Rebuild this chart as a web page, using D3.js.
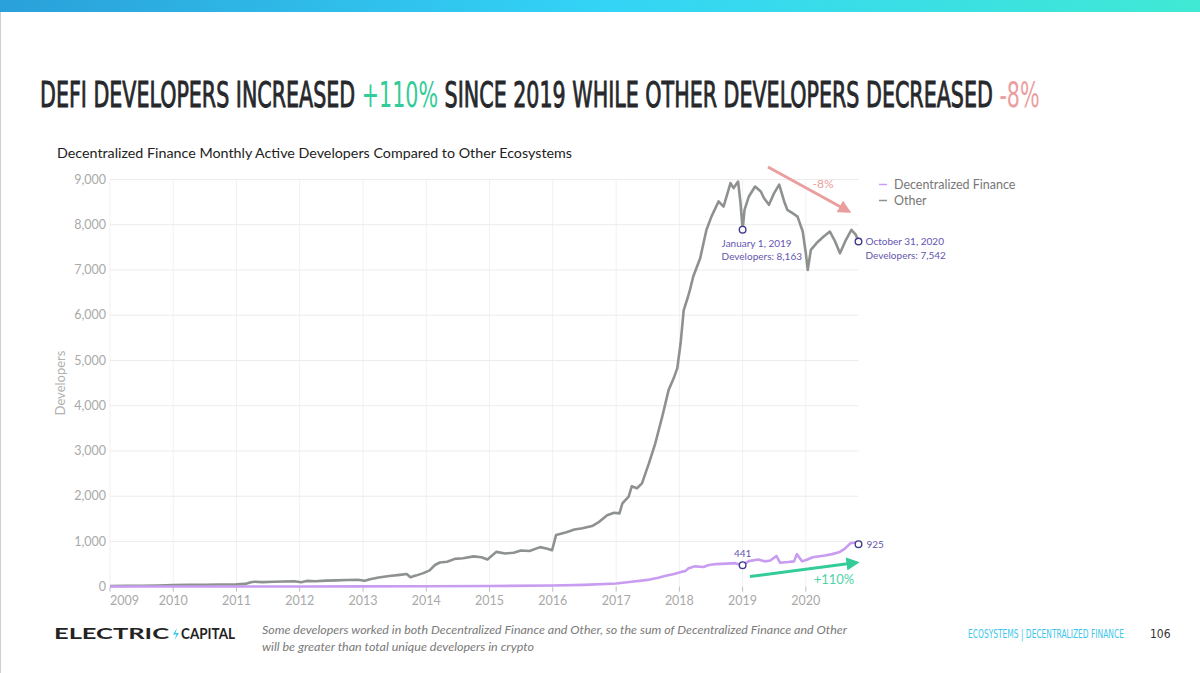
<!DOCTYPE html>
<html><head><meta charset="utf-8">
<script src="https://cdn.jsdelivr.net/npm/d3@7"></script>
<style>
html,body{margin:0;padding:0;background:#fff;}
svg{display:block;}
</style></head>
<body>
<svg id="c" width="1200" height="673"></svg>
<script>
// ---------------- DATA ----------------
const otherDates = ["2009-01-01","2009-04-01","2009-07-01","2009-10-01","2010-01-01","2010-04-01","2010-07-01","2010-10-01","2011-01-01","2011-02-20","2011-03-25","2011-04-15","2011-06-01","2011-08-01","2011-10-01","2011-12-01","2012-01-10","2012-02-10","2012-04-01","2012-06-01","2012-08-01","2012-10-01","2012-12-01","2013-01-10","2013-02-10","2013-04-01","2013-06-01","2013-08-01","2013-09-10","2013-10-01","2013-11-01","2013-12-15","2014-01-20","2014-02-20","2014-03-20","2014-05-01","2014-06-15","2014-08-01","2014-10-01","2014-11-15","2014-12-20","2015-02-10","2015-04-01","2015-05-20","2015-07-01","2015-08-20","2015-10-20","2015-12-01","2015-12-28","2016-01-20","2016-03-20","2016-05-05","2016-06-20","2016-08-15","2016-09-20","2016-11-10","2016-12-20","2017-01-20","2017-02-06","2017-03-14","2017-04-01","2017-05-01","2017-05-30","2017-07-09","2017-08-15","2017-09-24","2017-10-31","2017-11-29","2017-12-20","2018-01-08","2018-01-26","2018-02-17","2018-03-03","2018-03-22","2018-05-01","2018-06-06","2018-07-05","2018-08-15","2018-09-13","2018-10-23","2018-11-10","2018-12-06","2018-12-20","2019-01-01","2019-01-12","2019-02-06","2019-03-14","2019-04-16","2019-05-04","2019-06-02","2019-07-02","2019-07-31","2019-08-29","2019-09-16","2019-10-16","2019-11-14","2019-12-14","2020-01-01","2020-01-12","2020-01-30","2020-03-03","2020-04-13","2020-05-19","2020-06-18","2020-07-16","2020-08-15","2020-09-20","2020-10-16","2020-10-31"];
const otherValues = [15,18,22,28,35,40,42,47,52,62,100,110,102,108,115,122,98,128,120,135,140,148,155,130,165,205,235,262,280,210,245,300,360,480,535,550,615,630,670,650,600,770,735,750,800,790,875,840,805,1140,1205,1265,1290,1340,1420,1580,1635,1620,1840,1990,2220,2175,2285,2725,3170,3760,4350,4605,4830,5380,6115,6375,6560,6855,7260,7885,8180,8515,8400,8920,8810,8955,8480,7890,8330,8625,8845,8735,8590,8440,8700,8885,8515,8330,8255,8180,7850,7370,7000,7445,7595,7740,7850,7630,7370,7630,7885,7775,7630];

const defiDates = ["2009-01-01","2010-01-01","2011-01-01","2012-01-01","2013-01-01","2014-01-01","2015-01-01","2016-01-01","2016-07-01","2017-01-01","2017-04-01","2017-07-01","2017-09-01","2017-10-15","2017-12-01","2018-01-05","2018-02-06","2018-02-20","2018-04-01","2018-05-20","2018-06-20","2018-08-01","2018-10-01","2018-11-20","2019-01-01","2019-02-06","2019-04-01","2019-05-10","2019-06-10","2019-07-15","2019-08-05","2019-09-20","2019-10-25","2019-11-10","2019-12-10","2020-01-10","2020-02-10","2020-04-20","2020-06-01","2020-07-10","2020-08-10","2020-09-15","2020-10-10","2020-10-31"];
const defiValues = [3,4,5,6,8,10,14,25,40,70,110,150,200,240,280,320,350,400,450,435,480,500,510,520,476,565,600,560,580,680,530,545,560,720,560,600,650,690,720,760,830,960,975,940];

const yearTicks = [2009,2010,2011,2012,2013,2014,2015,2016,2017,2018,2019,2020];
const yTicks = [0,1000,2000,3000,4000,5000,6000,7000,8000,9000];
const seriesNames = ["Decentralized Finance","Other"];

const annSeries = ["other","other","defi","defi"];
const annDates = ["2019-01-01","2020-10-31","2019-01-01","2020-10-31"];
const annLines = [["January 1, 2019","Developers: 8,163"],["October 31, 2020","Developers: 7,542"],["441"],["925"]];

const titleParts = ["DEFI DEVELOPERS INCREASED ","+110%"," SINCE 2019 WHILE OTHER DEVELOPERS DECREASED ","-8%"];
const subtitle = "Decentralized Finance Monthly Active Developers Compared to Other Ecosystems";
const footnote = ["Some developers worked in both Decentralized Finance and Other, so the sum of Decentralized Finance and Other","will be greater than total unique developers in crypto"];

// ---------------- SETUP ----------------
const parse = d3.timeParse("%Y-%m-%d");
const other = otherDates.map((d,i)=>({date:parse(d), value:otherValues[i]}));
const defi = defiDates.map((d,i)=>({date:parse(d), value:defiValues[i]}));
const svg = d3.select("#c");

const C_OTHER = "#8e928e", C_DEFI = "#c89cf0", C_GREEN = "#33cc98", C_RED = "#eb9e9e", C_ANN = "#6455b0";
const NARROW = "'Liberation Sans Narrow','DejaVu Sans Condensed',Roboto,sans-serif";

// top banner
const defs = svg.append("defs");
const g1 = defs.append("linearGradient").attr("id","bn").attr("x1","0").attr("x2","1");
g1.append("stop").attr("offset","0").attr("stop-color","#2aa0da");
g1.append("stop").attr("offset","0.5").attr("stop-color","#33d4f6");
g1.append("stop").attr("offset","1").attr("stop-color","#3fe9d4");
svg.append("rect").attr("x",0).attr("y",0).attr("width",1200).attr("height",12).attr("fill","url(#bn)");
svg.append("line").attr("x1",0.5).attr("x2",0.5).attr("y1",12).attr("y2",673).attr("stroke","#cfcfcf");

// title
const title = svg.append("text").attr("font-family",NARROW)
  .attr("font-size",36).attr("font-weight",400).attr("fill","#26282b");
const tColors = ["#26282b",C_GREEN,"#26282b",C_RED];
titleParts.forEach((t,i)=>title.append("tspan").attr("fill",tColors[i])
  .attr("stroke", i%2 ? "none" : tColors[i]).attr("stroke-width",0.9).text(t));
const tw = title.node().getComputedTextLength();
title.attr("transform",`translate(40,107) scale(${1000/tw},1)`).attr("x",0).attr("y",0);

// subtitle
svg.append("text").attr("x",57).attr("y",158).attr("font-family","Lato,'Open Sans',sans-serif")
  .attr("font-size",14).attr("fill","#222").attr("textLength",515).attr("lengthAdjust","spacingAndGlyphs").text(subtitle);

// ---------------- CHART ----------------
const x = d3.scaleTime().domain([parse("2009-01-01"), parse("2020-10-31")]).range([110, 858.5]);
const y = d3.scaleLinear().domain([0,9000]).range([586.7,179.5]);

const grid = svg.append("g");
grid.selectAll(".vg").data(yearTicks).join("line")
  .attr("x1",d=>x(new Date(d,0,1))).attr("x2",d=>x(new Date(d,0,1)))
  .attr("y1",y(9000)).attr("y2",y(0)).attr("stroke","#f1f1f1");
grid.selectAll(".hg").data(yTicks.slice(1)).join("line")
  .attr("x1",110).attr("x2",858.5).attr("y1",d=>y(d)).attr("y2",d=>y(d)).attr("stroke","#ececec");

// y axis labels
svg.append("g").selectAll("text").data(yTicks).join("text")
  .attr("x",106).attr("y",d=>y(d)).attr("dy","0.34em").attr("text-anchor","end")
  .attr("font-family","Lato,'Open Sans',sans-serif").attr("font-size",12.5).attr("fill","#a9a9a9")
  .text(d=>d3.format(",")(d));
svg.append("text").attr("transform","translate(65,383) rotate(-90)").attr("text-anchor","middle")
  .attr("font-family","Lato,'Open Sans',sans-serif").attr("font-size",13).attr("fill","#b0b0b0").text("Developers");

// x axis
const xa = svg.append("g");
xa.selectAll(".tk").data(yearTicks).join("line")
  .attr("x1",d=>x(new Date(d,0,1))).attr("x2",d=>x(new Date(d,0,1)))
  .attr("y1",y(0)).attr("y2",y(0)+5).attr("stroke","#bdbdbd");
xa.selectAll("text").data(yearTicks).join("text")
  .attr("x",d=>x(new Date(d,0,1))).attr("y",605)
  .attr("text-anchor",(d,i)=>i===0?"start":"middle")
  .attr("font-family","Lato,'Open Sans',sans-serif").attr("font-size",12.5).attr("fill","#a9a9a9")
  .text(d=>d);

// lines
const line = d3.line().x(d=>x(d.date)).y(d=>y(d.value));
svg.append("path").datum(other).attr("d",line).attr("fill","none").attr("stroke",C_OTHER).attr("stroke-width",2.6).attr("stroke-linejoin","round");
svg.append("path").datum(defi).attr("d",line).attr("fill","none").attr("stroke",C_DEFI).attr("stroke-width",2.6).attr("stroke-linejoin","round");

// legend
const lg = svg.append("g");
[C_DEFI, C_OTHER].forEach((c,i)=>{
  lg.append("line").attr("x1",879).attr("x2",887).attr("y1",184.5+16*i).attr("y2",184.5+16*i).attr("stroke",c).attr("stroke-width",1.5);
  lg.append("text").attr("x",894).attr("y",188.8+16*i).attr("font-family","Lato,'Open Sans',sans-serif")
    .attr("font-size",12.5).attr("fill","#777").text(seriesNames[i]);
});

// arrows
const mk = (id,col)=>defs.append("marker").attr("id",id).attr("viewBox","0 0 10 10").attr("refX",8).attr("refY",5)
  .attr("markerWidth",4.4).attr("markerHeight",4.4).attr("orient","auto").attr("markerUnits","strokeWidth")
  .append("path").attr("d","M0,0L10,5L0,10Z").attr("fill",col);
mk("ar",C_RED); mk("ag",C_GREEN);
svg.append("line").attr("x1",768).attr("y1",167).attr("x2",849).attr("y2",211.5).attr("stroke",C_RED).attr("stroke-width",3).attr("marker-end","url(#ar)");
svg.append("text").attr("x",823).attr("y",188).attr("text-anchor","middle").attr("font-family","Lato,'Open Sans',sans-serif").attr("font-size",12).attr("fill",C_RED).text("-8%");
svg.append("line").attr("x1",750).attr("y1",576.5).attr("x2",857).attr("y2",562.5).attr("stroke",C_GREEN).attr("stroke-width",3).attr("marker-end","url(#ag)");
svg.append("text").attr("x",834).attr("y",583.5).attr("text-anchor","middle").attr("font-family","Lato,'Open Sans',sans-serif").attr("font-size",13).attr("fill","#4fd3a6").text("+110%");

// annotations
const lookup = (s,ds)=>{const arr = s==="other"?other:defi; const t = parse(ds).getTime(); return arr.find(p=>p.date.getTime()===t);};
const annPos = [
  {dx:-21, dy:17, anchor:"start"},
  {dx:7, dy:4, anchor:"start"},
  {dx:0, dy:-8, anchor:"middle"},
  {dx:8, dy:4, anchor:"start"}
];
annSeries.forEach((s,i)=>{
  const p = lookup(s, annDates[i]);
  const cx = x(p.date), cy = y(p.value);
  svg.append("circle").attr("cx",cx).attr("cy",cy).attr("r",3.3).attr("fill","#fff").attr("stroke","#3f3a8c").attr("stroke-width",1.4);
  const t = svg.append("text").attr("font-family","Lato,'Open Sans',sans-serif").attr("font-size",10).attr("fill",C_ANN)
    .attr("text-anchor",annPos[i].anchor);
  annLines[i].forEach((l,j)=>t.append("tspan").attr("x",cx+annPos[i].dx).attr("y",cy+annPos[i].dy+j*13.5).text(l));
});

// ---------------- FOOTER ----------------
const logo = svg.append("g").attr("font-family","Lato,Inter,sans-serif").attr("font-weight",700).attr("font-size",14.5).attr("fill","#232323");
logo.append("text").attr("x",54).attr("y",639).attr("textLength",115).attr("lengthAdjust","spacingAndGlyphs").text("ELECTRIC");
logo.append("path").attr("d","M177,628 L173,634.5 L176.5,634.5 L174.5,640 L179,633 L175.5,633 Z").attr("fill","#35c8f0");
logo.append("text").attr("x",181).attr("y",639).attr("textLength",54).attr("lengthAdjust","spacingAndGlyphs").text("CAPITAL");

const fn = svg.append("text").attr("font-family","Lato,'Open Sans',sans-serif").attr("font-style","italic").attr("font-size",11.5).attr("fill","#7a7a7a");
fn.append("tspan").attr("x",262).attr("y",634).attr("textLength",585).attr("lengthAdjust","spacingAndGlyphs").text(footnote[0]);
fn.append("tspan").attr("x",262).attr("y",651).attr("textLength",272).attr("lengthAdjust","spacingAndGlyphs").text(footnote[1]);

const eco = svg.append("text").attr("font-family",NARROW).attr("font-size",12).attr("fill","#3cc6ea").text("ECOSYSTEMS | DECENTRALIZED FINANCE");
const ew = eco.node().getComputedTextLength();
eco.attr("transform",`translate(968,638) scale(${156/ew},1)`);
svg.append("text").attr("x",1150).attr("y",638).attr("font-family",NARROW)
  .attr("font-size",12).attr("fill","#333").text("106");
</script>
</body></html>
